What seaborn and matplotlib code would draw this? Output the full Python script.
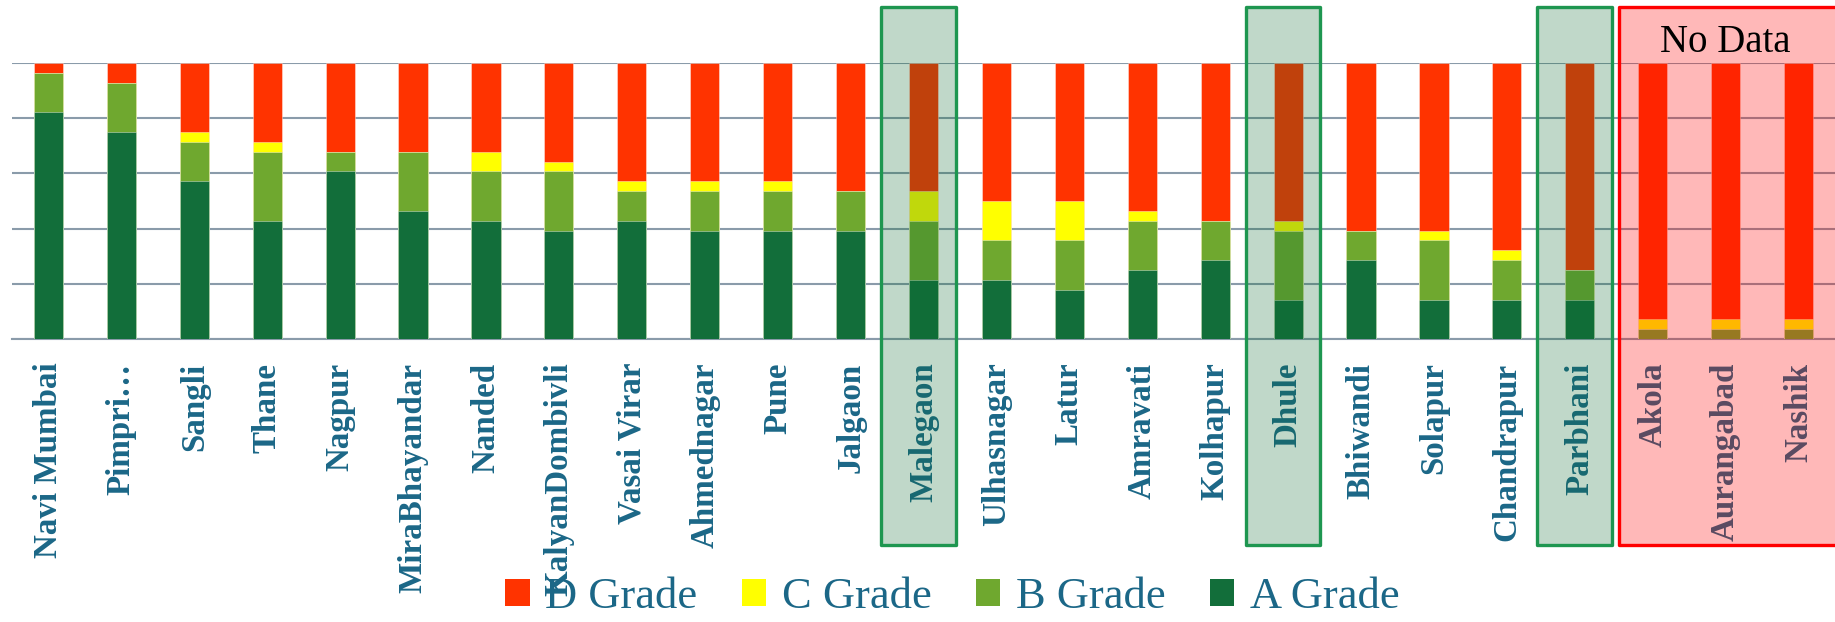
import numpy as np
import pandas as pd
import matplotlib
matplotlib.use("Agg")
import matplotlib.pyplot as plt
import matplotlib.transforms as mtransforms
from matplotlib.patches import Rectangle, Patch
from matplotlib.ticker import FixedLocator
import seaborn as sns

# ward counts per grade (out of 28)
cities = ["Navi Mumbai", "Pimpri…", "Sangli", "Thane", "Nagpur", "MiraBhayandar",
          "Nanded", "KalyanDombivli", "Vasai Virar", "Ahmednagar", "Pune", "Jalgaon",
          "Malegaon", "Ulhasnagar", "Latur", "Amravati", "Kolhapur", "Dhule",
          "Bhiwandi", "Solapur", "Chandrapur", "Parbhani", "Akola", "Aurangabad", "Nashik"]
d_grade = [1, 2, 7, 8, 9, 9, 9, 10, 12, 12, 12, 13, 13, 14, 14, 15, 16, 16, 17, 17, 19, 21, 26, 26, 26]
c_grade = [0, 0, 1, 1, 0, 0, 2, 1, 1, 1, 1, 0, 3, 4, 4, 1, 0, 1, 0, 1, 1, 0, 1, 1, 1]
b_grade = [4, 5, 4, 7, 2, 6, 5, 6, 3, 4, 4, 4, 6, 4, 5, 5, 4, 7, 3, 6, 4, 3, 1, 1, 1]
a_grade = [23, 21, 16, 12, 17, 13, 12, 11, 12, 11, 11, 11, 6, 6, 5, 7, 8, 4, 8, 4, 4, 4, 0, 0, 0]

highlighted = ["Malegaon", "Dhule", "Parbhani"]
no_data = ["Akola", "Aurangabad", "Nashik"]

colors = {"D Grade": "#FF3300", "C Grade": "#FFFF00", "B Grade": "#6FA82F", "A Grade": "#126E3A"}
label_color = "#1B6787"
grid_color = "#8A9BAA"

df = pd.DataFrame({"city": cities, "D Grade": d_grade, "C Grade": c_grade,
                   "B Grade": b_grade, "A Grade": a_grade})
total = df[["D Grade", "C Grade", "B Grade", "A Grade"]].sum(axis=1)
# cumulative tops for the stack, as percentage
df["A_top"] = df["A Grade"] / total * 100
df["B_top"] = df["A_top"] + df["B Grade"] / total * 100
df["C_top"] = df["B_top"] + df["C Grade"] / total * 100
df["D_top"] = df["C_top"] + df["D Grade"] / total * 100

sns.set_theme(style="white")
plt.rcParams["font.family"] = ["Liberation Serif", "DejaVu Serif"]

fig = plt.figure(figsize=(18.35, 6.22), dpi=100)
ax = fig.add_axes([12 / 1835, 1 - 339 / 622, 1 - 12 / 1835, 276 / 622])

edge = (1, 1, 1, 0.45)
for col, grade in [("D_top", "D Grade"), ("C_top", "C Grade"), ("B_top", "B Grade"), ("A_top", "A Grade")]:
    sns.barplot(data=df, x="city", y=col, color=colors[grade], width=0.4,
                saturation=1, linewidth=0.6, edgecolor=edge, ax=ax, zorder=3)

ax.set_xlim(-0.5, len(cities) - 0.5)
ax.set_ylim(0, 100)
ax.set_yticks([0, 20, 40, 60, 80, 100])
ax.set_yticklabels([])
ax.tick_params(axis="y", length=0)
ax.yaxis.grid(True, color=grid_color, linewidth=1.5)
ax.set_axisbelow(True)
ax.set_xlabel("")
ax.set_ylabel("")

for side in ["left", "right", "top"]:
    ax.spines[side].set_visible(False)
ax.spines["bottom"].set_color(grid_color)
ax.spines["bottom"].set_linewidth(1.5)

ax.set_xticks(range(len(cities)))
ax.set_xticklabels(cities, rotation=90, fontsize=23.8, fontweight="bold",
                   color=label_color, va="top", ha="center")
ax.tick_params(axis="x", which="major", length=0, pad=17)
ax.xaxis.set_minor_locator(FixedLocator(np.arange(-0.5, len(cities), 1)))
ax.tick_params(axis="x", which="minor", length=7, width=1.4, color=grid_color, direction="out")

# highlight boxes drawn over bars and labels
trans = mtransforms.blended_transform_factory(ax.transData, ax.transAxes)
y0 = (339 - 545) / 276
h = (545 - 7) / 276
for name in highlighted:
    i = cities.index(name)
    ax.add_patch(Rectangle((i - 0.58, y0), 1.02, h, transform=trans, clip_on=False,
                           facecolor=(13 / 255, 108 / 255, 50 / 255, 0.26),
                           edgecolor="#1E9650", linewidth=2.4, joinstyle="round", zorder=10))

first = cities.index(no_data[0])
ax.add_patch(Rectangle((first - 0.46, y0), 3.6, h, transform=trans, clip_on=False,
                       facecolor=(1, 0, 0, 0.28), edgecolor="#FF0000", linewidth=2.4,
                       joinstyle="round", zorder=10))
ax.text(cities.index(no_data[1]), (339 - 42) / 276, "No Data", transform=trans,
        ha="center", va="center", fontsize=28, color="black", zorder=11)

handles = [Patch(facecolor=colors[g], edgecolor="none", label=g)
           for g in ["D Grade", "C Grade", "B Grade", "A Grade"]]
leg = fig.legend(handles=handles, loc="center", bbox_to_anchor=(0.519, 0.04), ncol=4,
                 frameon=False, fontsize=32, handlelength=0.55, handleheight=0.55,
                 handletextpad=0.35, columnspacing=1.0, borderaxespad=0)
for t in leg.get_texts():
    t.set_color(label_color)

fig.savefig("out.png", dpi=100)
